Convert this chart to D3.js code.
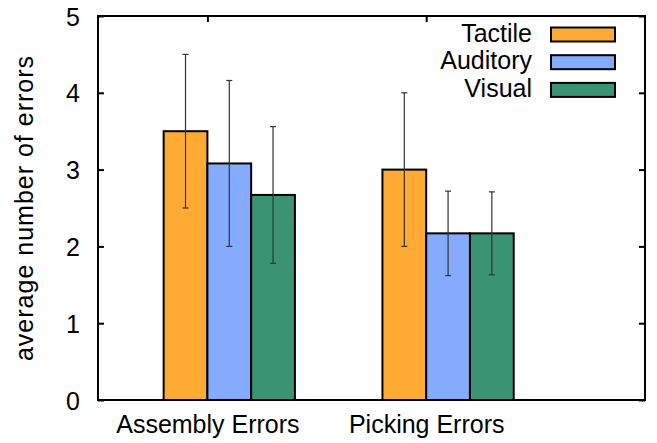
<!DOCTYPE html>
<meta charset="utf-8">
<title>errors by feedback</title>
<style>

body {
  margin: 0;
  background: #fff;
}

text {
  font-family: "Liberation Sans", Arial, sans-serif;
  font-size: 25px;
  fill: #000;
}

.ylabel {
  letter-spacing: 1px;
}

.bar {
  stroke: #000;
  stroke-width: 2px;
}

.err {
  stroke: #333;
  stroke-width: 1.2px;
}

.frame {
  fill: none;
  stroke: #000;
  stroke-width: 2px;
}

.axis line {
  stroke: #000;
  stroke-width: 2px;
}

</style>
<body>
<script src="https://cdn.jsdelivr.net/npm/d3@7"></script>
<script>

var width = 657,
    height = 443;

var categories = ["Assembly Errors", "Picking Errors"],
    series = ["Tactile", "Auditory", "Visual"],
    colors = ["#ffab33", "#84abfd", "#3a9474"];

// bar heights, one value per category
var tactile = [3.5, 3.0],
    auditory = [3.08, 2.17],
    visual = [2.67, 2.17];

// half-length of the error bars
var tactileErr = [1.0, 1.0],
    auditoryErr = [1.08, 0.55],
    visualErr = [0.89, 0.54];

var yTicks = [0, 1, 2, 3, 4, 5];

var margin = {top: 16, right: 12, bottom: 43, left: 98};

var x = d3.scaleLinear()
    .domain([-0.5, 2.0])
    .range([margin.left, width - margin.right]);

var y = d3.scaleLinear()
    .domain([0, 5])
    .range([height - margin.bottom, margin.top]);

var barWidth = 0.2;

var rows = [];
[tactile, auditory, visual].forEach(function(values, j) {
  var errs = [tactileErr, auditoryErr, visualErr][j];
  values.forEach(function(v, i) {
    rows.push({cat: i, s: j, value: v, err: errs[i]});
  });
});

var svg = d3.select("body").append("svg")
    .attr("width", width)
    .attr("height", height);

// left ticks and labels, mirrored on the right
svg.append("g")
    .attr("class", "axis")
    .attr("transform", "translate(" + margin.left + ",0)")
    .call(d3.axisLeft(y).tickValues(yTicks).tickSize(-6).tickPadding(18).tickFormat(d3.format("d")))
    .call(function(g) { g.select(".domain").remove(); })
    .selectAll("text")
    .attr("dy", "0.36em");

svg.append("g")
    .attr("class", "axis")
    .attr("transform", "translate(" + (width - margin.right) + ",0)")
    .call(d3.axisRight(y).tickValues(yTicks).tickSize(-6).tickFormat(""))
    .call(function(g) { g.select(".domain").remove(); });

// category ticks on top and bottom
svg.append("g")
    .attr("class", "axis")
    .attr("transform", "translate(0," + margin.top + ")")
    .call(d3.axisTop(x).tickValues([0, 1]).tickSize(-6).tickFormat(""))
    .call(function(g) { g.select(".domain").remove(); });

svg.append("g")
    .attr("class", "axis")
    .attr("transform", "translate(0," + (height - margin.bottom) + ")")
    .call(d3.axisBottom(x).tickValues([0, 1]).tickSize(-6).tickPadding(15)
      .tickFormat(function(d) { return categories[d]; }))
    .call(function(g) { g.select(".domain").remove(); })
    .selectAll("text")
    .attr("dy", "0.71em");

svg.selectAll(".bar")
    .data(rows)
  .enter().append("rect")
    .attr("class", "bar")
    .attr("x", function(d) { return x(d.cat + (d.s - 1) * barWidth); })
    .attr("width", function(d) { return x(barWidth) - x(0); })
    .attr("y", function(d) { return y(d.value); })
    .attr("height", function(d) { return y(0) - y(d.value); })
    .style("fill", function(d) { return colors[d.s]; });

// error bars
var eb = svg.selectAll(".eb")
    .data(rows)
  .enter().append("g")
    .attr("class", "err")
    .attr("transform", function(d) {
      return "translate(" + x(d.cat + (d.s - 0.5) * barWidth) + ",0)";
    });

eb.append("line")
    .attr("y1", function(d) { return y(d.value - d.err); })
    .attr("y2", function(d) { return y(d.value + d.err); });

eb.append("line")
    .attr("x1", -3).attr("x2", 3)
    .attr("y1", function(d) { return y(d.value + d.err); })
    .attr("y2", function(d) { return y(d.value + d.err); });

eb.append("line")
    .attr("x1", -3).attr("x2", 3)
    .attr("y1", function(d) { return y(d.value - d.err); })
    .attr("y2", function(d) { return y(d.value - d.err); });

svg.append("rect")
    .attr("class", "frame")
    .attr("x", margin.left)
    .attr("y", margin.top)
    .attr("width", width - margin.right - margin.left)
    .attr("height", height - margin.bottom - margin.top);

svg.append("text")
    .attr("class", "ylabel")
    .attr("transform", "translate(33," + ((margin.top + height - margin.bottom) / 2) + ")rotate(-90)")
    .attr("text-anchor", "middle")
    .text("average number of errors");

// legend
var legend = svg.selectAll(".legend")
    .data(series)
  .enter().append("g")
    .attr("transform", function(d, i) { return "translate(0," + (34.5 + i * 27.7) + ")"; });

legend.append("text")
    .attr("x", 532)
    .attr("y", 7)
    .attr("text-anchor", "end")
    .text(function(d) { return d; });

legend.append("rect")
    .attr("class", "bar")
    .attr("x", 551)
    .attr("y", -7)
    .attr("width", 64)
    .attr("height", 14)
    .style("fill", function(d, i) { return colors[i]; });

</script>
</body>
